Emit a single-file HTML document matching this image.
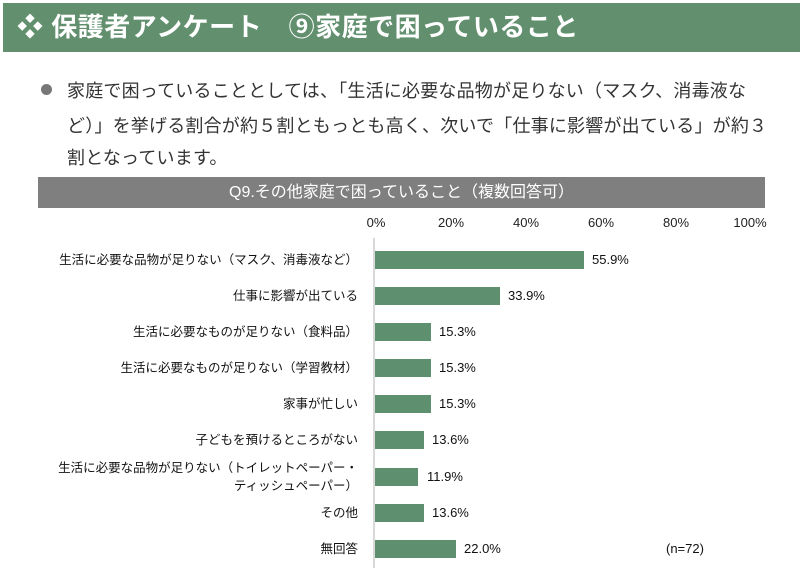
<!DOCTYPE html>
<html><head><meta charset="utf-8"><style>
body{margin:0;width:800px;height:585px;background:#fff;position:relative;overflow:hidden;font-family:"Liberation Sans","Noto Sans CJK JP",sans-serif;}
.hdr{position:absolute;left:3px;top:3px;width:797px;height:49px;background:#62906f;color:#fff;font-size:26px;letter-spacing:0.5px;font-weight:bold;line-height:49px;padding-left:14px;box-sizing:border-box;white-space:nowrap;}
.txt{position:absolute;left:67px;font-size:18px;letter-spacing:0.2px;color:#333;white-space:nowrap;}
.dot{position:absolute;left:41px;top:84px;width:11px;height:11px;border-radius:50%;background:#777;}
.gbar{position:absolute;left:38px;top:177px;width:727px;height:31px;background:#7f7f7f;color:#fff;font-size:16px;text-align:center;line-height:31px;}
.tick{position:absolute;top:215px;font-size:13px;color:#222;transform:translateX(-50%);}
.lab{position:absolute;right:442px;font-size:12.5px;color:#111;text-align:right;white-space:nowrap;line-height:18px;}
.bar{position:absolute;left:375px;height:18px;background:#5e9070;}
.val{position:absolute;font-size:13px;color:#111;line-height:18px;}
.axis{position:absolute;left:373px;top:238px;width:2px;height:330px;background:#d9d9d9;}
</style></head><body>
<div class="hdr">❖ 保護者アンケート　⑨家庭で困っていること</div>
<div class="dot"></div>
<div class="txt" style="top:77px">家庭で困っていることとしては、「生活に必要な品物が足りない（マスク、消毒液な</div>
<div class="txt" style="top:112px">ど）」を挙げる割合が約５割ともっとも高く、次いで「仕事に影響が出ている」が約３</div>
<div class="txt" style="top:144px">割となっています。</div>
<div class="gbar">Q9.その他家庭で困っていること（複数回答可）</div>
<div class="tick" style="left:376px">0%</div>
<div class="tick" style="left:451px">20%</div>
<div class="tick" style="left:526px">40%</div>
<div class="tick" style="left:601px">60%</div>
<div class="tick" style="left:676px">80%</div>
<div class="tick" style="left:750px">100%</div>
<div class="axis"></div>

<div class="lab" style="top:251px">生活に必要な品物が足りない（マスク、消毒液など）</div>
<div class="bar" style="top:251px;width:209px"></div><div class="val" style="top:251px;left:592px">55.9%</div>

<div class="lab" style="top:287px">仕事に影響が出ている</div>
<div class="bar" style="top:287px;width:125px"></div><div class="val" style="top:287px;left:508px">33.9%</div>

<div class="lab" style="top:323px">生活に必要なものが足りない（食料品）</div>
<div class="bar" style="top:323px;width:56px"></div><div class="val" style="top:323px;left:439px">15.3%</div>

<div class="lab" style="top:359px">生活に必要なものが足りない（学習教材）</div>
<div class="bar" style="top:359px;width:56px"></div><div class="val" style="top:359px;left:439px">15.3%</div>

<div class="lab" style="top:395px">家事が忙しい</div>
<div class="bar" style="top:395px;width:56px"></div><div class="val" style="top:395px;left:439px">15.3%</div>

<div class="lab" style="top:431px">子どもを預けるところがない</div>
<div class="bar" style="top:431px;width:49px"></div><div class="val" style="top:431px;left:432px">13.6%</div>

<div class="lab" style="top:459px">生活に必要な品物が足りない（トイレットペーパー・<br>ティッシュペーパー）</div>
<div class="bar" style="top:468px;width:43px"></div><div class="val" style="top:468px;left:427px">11.9%</div>

<div class="lab" style="top:504px">その他</div>
<div class="bar" style="top:504px;width:49px"></div><div class="val" style="top:504px;left:432px">13.6%</div>

<div class="lab" style="top:540px">無回答</div>
<div class="bar" style="top:540px;width:81px"></div><div class="val" style="top:540px;left:464px">22.0%</div>
<div class="val" style="top:540px;left:666px">(n=72)</div>
</body></html>
